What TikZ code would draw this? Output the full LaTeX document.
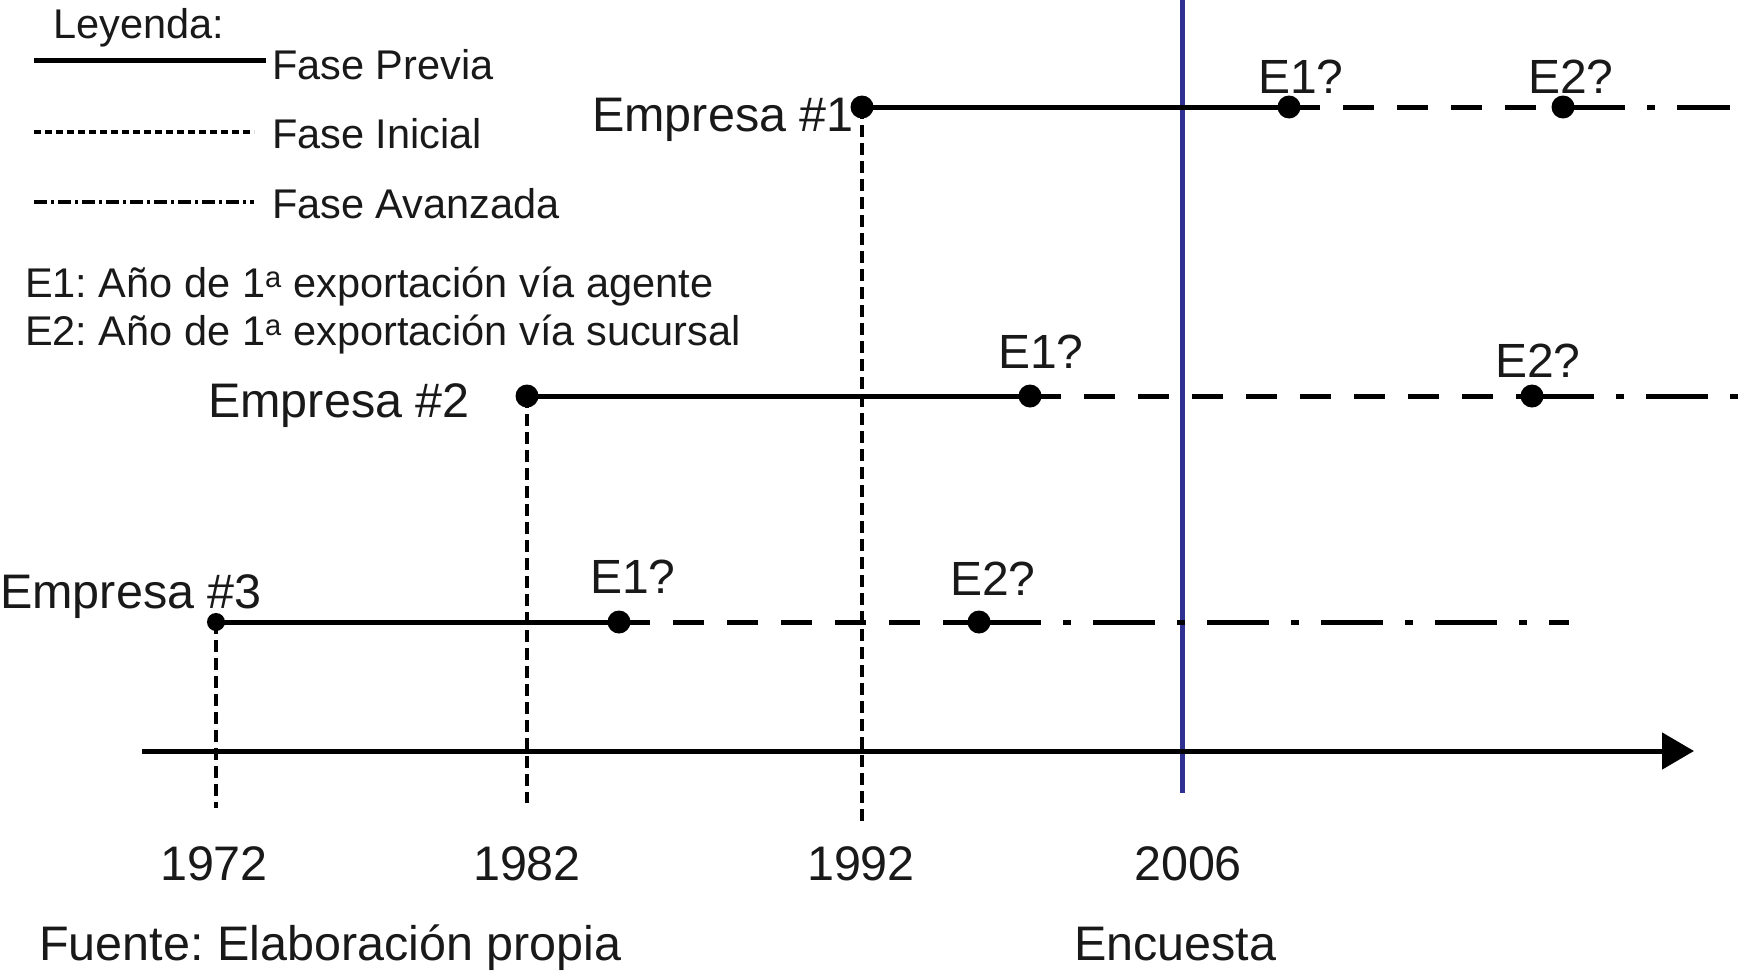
\documentclass[tikz,border=0pt]{standalone}
\usepackage{fontspec}
\setmainfont{Liberation Sans}
\usetikzlibrary{arrows.meta}
\definecolor{survey}{RGB}{46,49,146}
\frenchspacing
\begin{document}
\begin{tikzpicture}[x=1pt,y=-1pt,
  lab/.style={anchor=base west,inner sep=0pt,text=black!90},
  leg/.style={lab,font=\fontsize{41.5}{49}\selectfont},
  emp/.style={lab,font=\fontsize{48.5}{57}\selectfont},
  eq/.style={lab,font=\fontsize{48}{56}\selectfont},
  yr/.style={anchor=base,inner sep=0pt,text=black!90,font=\fontsize{48.5}{57}\selectfont},
  foot/.style={lab,font=\fontsize{48.5}{57}\selectfont},
  previa/.style={line width=5pt},
  inicial/.style={line width=5pt,dash pattern=on 31pt off 23pt},
  avanzada/.style={line width=5pt,dash pattern=on 62pt off 22pt on 8pt off 22pt},
  vguide/.style={line width=4pt,dash pattern=on 12pt off 6pt},
  dot/.style={circle,fill=black,inner sep=0pt,minimum size=23pt},
  smalldot/.style={circle,fill=black,inner sep=0pt,minimum size=18pt}]
\useasboundingbox (0,0) rectangle (1742,972);

% legend
\node[leg] (leyenda) at (53,38) {Leyenda:};
\coordinate (lpa) at (34,60);  \coordinate (lpb) at (266,60);
\coordinate (lia) at (34,132); \coordinate (lib) at (254,132);
\coordinate (laa) at (34,202); \coordinate (lab) at (254,202);
\draw[line width=5pt] (lpa) -- (lpb);
\draw[line width=4pt,dash pattern=on 7pt off 4pt] (lia) -- (lib);
\draw[line width=4pt,dash pattern=on 13pt off 4pt on 3pt off 4pt] (laa) -- (lab);
\node[leg] (tprev) at (272,79) {Fase Previa};
\node[leg] (tini) at (272,148) {Fase Inicial};
\node[leg] (tav) at (272,218) {Fase Avanzada};
\node[leg] (te1) at (25,297) {E1: Año de 1\textsuperscript{a} exportación vía agente};
\node[leg] (te2) at (25,345) {E2: Año de 1\textsuperscript{a} exportación vía sucursal};

% survey line
\coordinate (st) at (1182,0); \coordinate (sb) at (1182,793);
\draw[survey,line width=5pt] (st) -- (sb);

% key points
\coordinate (a1) at (862,107);  \coordinate (b1) at (1289,107); \coordinate (c1) at (1563,107); \coordinate (z1) at (1730,107);
\coordinate (a2) at (527,396);  \coordinate (b2) at (1030,396); \coordinate (c2) at (1532,396); \coordinate (z2) at (1742,396);
\coordinate (a3) at (216,622);  \coordinate (b3) at (619,622);  \coordinate (c3) at (979,622);  \coordinate (z3) at (1569,622);
\coordinate (g1) at (862,821); \coordinate (g2) at (527,803); \coordinate (g3) at (216,808);

% vertical guides
\draw[vguide] (a1) -- (g1);
\draw[vguide] (a2) -- (g2);
\draw[vguide] (a3) -- (g3);

% company timelines
\draw[previa] (a1) -- (b1); \draw[inicial] (b1) -- (c1); \draw[avanzada] (c1) -- (z1);
\draw[previa] (a2) -- (b2); \draw[inicial] (b2) -- (c2); \draw[avanzada] (c2) -- (z2);
\draw[previa] (a3) -- (b3); \draw[inicial] (b3) -- (c3); \draw[avanzada] (c3) -- (z3);

\node[dot] (da1) at (a1) {}; \node[dot] (db1) at (b1) {}; \node[dot] (dc1) at (c1) {};
\node[dot] (da2) at (a2) {}; \node[dot] (db2) at (b2) {}; \node[dot] (dc2) at (c2) {};
\node[smalldot] (da3) at (a3) {}; \node[dot] (db3) at (b3) {}; \node[dot] (dc3) at (c3) {};

\node[emp] (emp1) at (592,131) {Empresa \#1};
\node[emp] (emp2) at (208,417) {Empresa \#2};
\node[emp] (emp3) at (0,608) {Empresa \#3};

\node[eq] (q11) at (1258,93) {E1?};
\node[eq] (q12) at (1528,93) {E2?};
\node[eq] (q21) at (998,368) {E1?};
\node[eq] (q22) at (1495,377) {E2?};
\node[eq] (q31) at (590,593) {E1?};
\node[eq] (q32) at (950,595) {E2?};

% time axis
\coordinate (ax0) at (142,751); \coordinate (ax1) at (1694,751);
\draw[line width=5pt,-{Triangle[length=32pt,width=36pt]}] (ax0) -- (ax1);

\node[yr] (y72) at (214,880) {1972};
\node[yr] (y82) at (527,880) {1982};
\node[yr] (y92) at (861,880) {1992};
\node[yr] (y06) at (1188,880) {2006};

\node[foot] (fuente) at (39,960) {Fuente: Elaboración propia};
\node[foot] (enc) at (1074,960) {Encuesta};
\end{tikzpicture}
\end{document}
